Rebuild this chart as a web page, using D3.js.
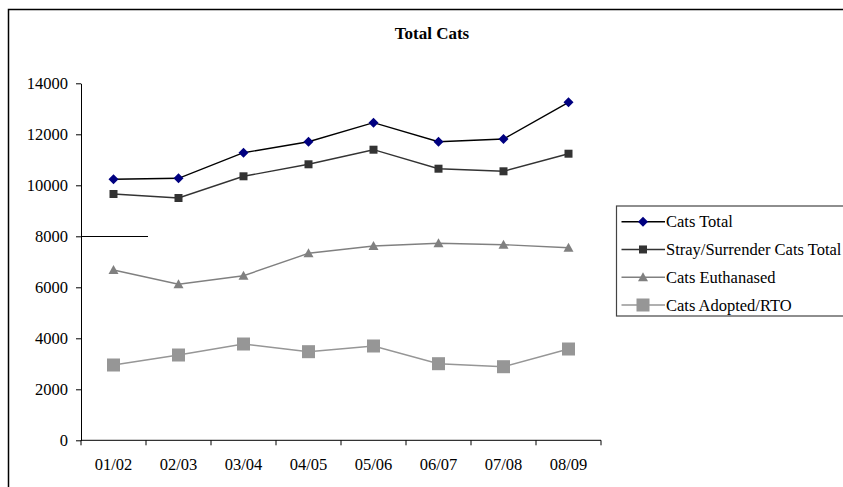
<!DOCTYPE html>
<html>
<head>
<meta charset="utf-8">
<script src="https://cdn.jsdelivr.net/npm/d3@7"></script>
<style>
  html, body { margin: 0; padding: 0; background: #fff; }
  svg { display: block; }
  text { font-family: "Liberation Serif", "Times New Roman", serif; fill: #000; }
</style>
</head>
<body>
<svg id="chart" width="843" height="487"></svg>
<script>
// Fiscal years on the x axis
const years = ["01/02", "02/03", "03/04", "04/05", "05/06", "06/07", "07/08", "08/09"];

// Series values per year
const catsTotal      = [10235, 10275, 11278, 11710, 12455, 11710, 11816, 13255];
const strayTotal     = [9659, 9502, 10353, 10824, 11396, 10651, 10549, 11239];
const catsEuthanased = [6678, 6118, 6455, 7333, 7620, 7725, 7671, 7553];
const catsAdopted    = [2953, 3345, 3776, 3475, 3698, 3004, 2886, 3580];

const seriesNames = ["Cats Total", "Stray/Surrender Cats Total", "Cats Euthanased", "Cats Adopted/RTO"];
const yTicks = [0, 2000, 4000, 6000, 8000, 10000, 12000, 14000];

const series = [
  { name: seriesNames[0], values: catsTotal,      line: "#000000", fill: "#000080", shape: "diamond" },
  { name: seriesNames[1], values: strayTotal,     line: "#333333", fill: "#333333", shape: "square" },
  { name: seriesNames[2], values: catsEuthanased, line: "#808080", fill: "#808080", shape: "triangle" },
  { name: seriesNames[3], values: catsAdopted,    line: "#969696", fill: "#969696", shape: "bigsquare" }
];

const svg = d3.select("#chart");

// Outer frame (left and top edges visible)
svg.append("path")
  .attr("d", "M8.5,487 L8.5,9.5 L843,9.5")
  .attr("fill", "none").attr("stroke", "#000").attr("stroke-width", 1.5);

// Title
svg.append("text")
  .attr("x", 432).attr("y", 39)
  .attr("text-anchor", "middle")
  .style("font-size", "17px").style("font-weight", "bold")
  .text("Total Cats");

const plot = { left: 81, right: 601, top: 83.3, bottom: 440.3 };

const x = d3.scaleBand().domain(years).range([plot.left, plot.right]).padding(0);
const y = d3.scaleLinear().domain([0, 14000]).range([plot.bottom, plot.top]);
const cx = d => x(d) + x.bandwidth() / 2;

// Y axis
const yAxis = svg.append("g")
  .attr("transform", `translate(${plot.left},0)`)
  .call(d3.axisLeft(y).tickValues(yTicks).tickSize(5).tickSizeOuter(0).tickPadding(8).tickFormat(d3.format("d")));
yAxis.selectAll("text").style("font-size", "16.5px");
yAxis.select(".domain").attr("stroke", "#000");

// Short reference line at 8000
svg.append("line")
  .attr("x1", plot.left).attr("x2", plot.left + x.step() + 2)
  .attr("y1", Math.round(y(8000)) + 0.5).attr("y2", Math.round(y(8000)) + 0.5)
  .attr("stroke", "#000").attr("stroke-width", 1);

// X axis: labels centred in each category, ticks on category boundaries
const xAxis = svg.append("g")
  .attr("transform", `translate(0,${plot.bottom})`)
  .call(d3.axisBottom(x).tickSize(0).tickPadding(18));
xAxis.selectAll("text").style("font-size", "16.5px");
xAxis.select(".domain").remove();
xAxis.append("line")
  .attr("x1", plot.left).attr("x2", plot.right)
  .attr("y1", 0).attr("y2", 0).attr("stroke", "#000");
const boundaries = years.map(d => x(d)).concat([x(years[years.length - 1]) + x.bandwidth()]);
xAxis.selectAll(".bt").data(boundaries).enter().append("line")
  .attr("class", "bt")
  .attr("x1", d => d).attr("x2", d => d)
  .attr("y1", 0).attr("y2", 5)
  .attr("stroke", "#000");

// Marker shapes
function drawMarker(g, shape, fill) {
  if (shape === "diamond") {
    g.append("path").attr("d", "M0,-5 L5,0 L0,5 L-5,0 Z").attr("fill", fill);
  } else if (shape === "square") {
    g.append("rect").attr("x", -4).attr("y", -4).attr("width", 8).attr("height", 8).attr("fill", fill);
  } else if (shape === "triangle") {
    g.append("path").attr("d", "M0,-5 L5,4 L-5,4 Z").attr("fill", fill);
  } else {
    g.append("rect").attr("x", -6.5).attr("y", -6.5).attr("width", 13).attr("height", 13).attr("fill", fill);
  }
}

const line = d3.line().x((d, i) => cx(years[i])).y(d => y(d));

// Lines drawn bottom series first
series.slice().reverse().forEach(s => {
  svg.append("path")
    .datum(s.values)
    .attr("d", line)
    .attr("fill", "none")
    .attr("stroke", s.line)
    .attr("stroke-width", 1.4);
  s.values.forEach((v, i) => {
    const g = svg.append("g").attr("transform", `translate(${cx(years[i])},${y(v)})`);
    drawMarker(g, s.shape, s.fill);
  });
});

// Legend
const legend = svg.append("g");
legend.append("rect")
  .attr("x", 616.5).attr("y", 206).attr("width", 260).attr("height", 110)
  .attr("fill", "#fff").attr("stroke", "#444").attr("stroke-width", 1.2);
const rowY = d3.scalePoint().domain(seriesNames).range([221.7, 305]);
series.forEach(s => {
  const yy = rowY(s.name);
  legend.append("line")
    .attr("x1", 621.5).attr("x2", 665).attr("y1", yy).attr("y2", yy)
    .attr("stroke", s.line).attr("stroke-width", 1.4);
  const g = legend.append("g").attr("transform", `translate(643,${yy})`);
  drawMarker(g, s.shape, s.fill);
  legend.append("text")
    .attr("x", 666).attr("y", yy + 5.5)
    .style("font-size", "16.5px")
    .text(s.name);
});
</script>
</body>
</html>
